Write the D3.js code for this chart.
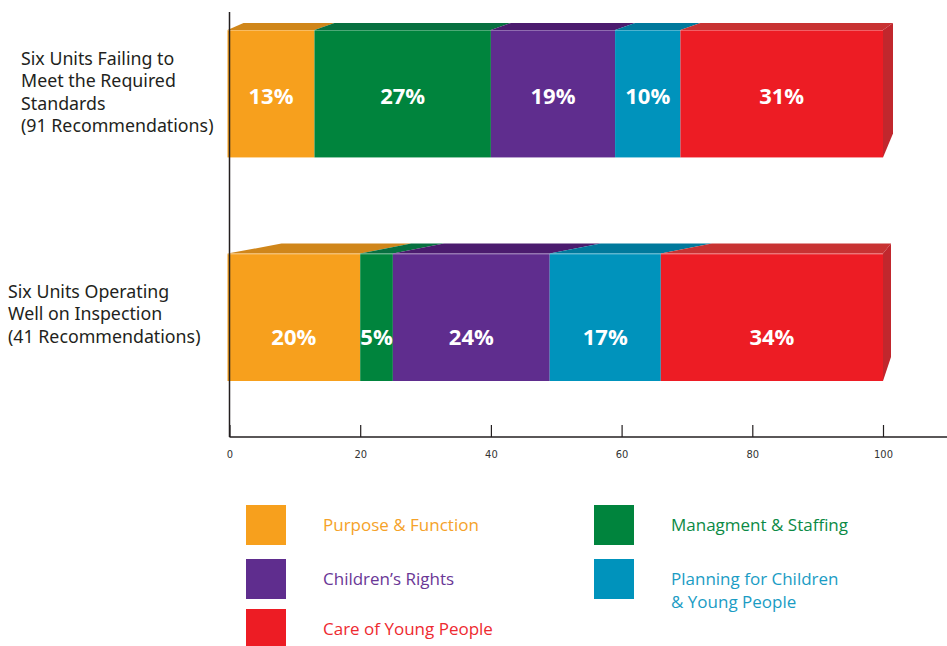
<!DOCTYPE html>
<html>
<head>
<meta charset="utf-8">
<script src="https://cdn.jsdelivr.net/npm/d3@7/dist/d3.min.js"></script>
<style>
  html, body { margin: 0; padding: 0; background: #ffffff; }
  svg { display: block; }
  .cat { font-family: "Noto Sans", "Open Sans", sans-serif; font-size: 17.8px; fill: #231f20; }
  .pct { font-family: "Open Sans", "Noto Sans", sans-serif; font-weight: 700; font-size: 22px; fill: #ffffff; }
  .tick text { font-family: "Liberation Sans Narrow", "DejaVu Sans Condensed", sans-serif; font-size: 11px; fill: #333333; }
  .leg { font-family: "Open Sans", "Noto Sans", sans-serif; font-size: 17px; }
</style>
</head>
<body>
<svg id="chart" width="947" height="646"></svg>
<script>
// Category labels, one line per entry
const categories = [
  ["Six Units Failing to", "Meet the Required", "Standards", "(91 Recommendations)"],
  ["Six Units Operating", "Well on Inspection", "(41 Recommendations)"]
];
const seriesNames = [
  "Purpose & Function",
  "Managment & Staffing",
  "Children\u2019s Rights",
  "Planning for Children & Young People",
  "Care of Young People"
];
// Percentages per series, one value per category
const purposeFunction = [13, 20];
const managementStaffing = [27, 5];
const childrensRights = [19, 24];
const planningChildren = [10, 17];
const careYoungPeople = [31, 34];
const tickValues = [0, 20, 40, 60, 80, 100];

const seriesValues = [purposeFunction, managementStaffing, childrensRights, planningChildren, careYoungPeople];

// Front, top-face and side-face shades for each series
const frontColors = ["#f7a01d", "#00843d", "#5f2d8e", "#0093bc", "#ed1c24"];
const topColors   = ["#d0861a", "#077040", "#4b1b6e", "#00799c", "#c83232"];
const sideColor = "#c1272d";
const textColors  = ["#f5a229", "#0b8a45", "#6a3796", "#1a9cc4", "#ee2a30"];

// Extrusion of each box (pixels): inner edge shift, left/right edge shift, rise, side bottom rise
const boxDepth = [
  { dx: 20, dxL: 16, dxR: 10, dy: 7, rise: 24, labelShift: 1 },
  { dx: 51, dxL: 54, dxR: 8, dy: 10, rise: 24, labelShift: 19 }
];

const svg = d3.select("#chart");
const W = 947;

const x = d3.scaleLinear().domain([0, 100]).range([229.5, 883]);
const catKeys = categories.map((c, i) => i);
const y = d3.scaleBand().domain(catKeys).range([30, 381]).paddingInner(0.43).paddingOuter(0);
const axisY = 437;

// Stack the series for every category
const rows = catKeys.map(ci => {
  let acc = 0;
  return seriesValues.map((vals, si) => {
    const seg = { ci, si, v: vals[ci], x0: acc, x1: acc + vals[ci] };
    acc += vals[ci];
    return seg;
  });
});

const barsG = svg.append("g");
const barLeft = v => (v === 0 ? x(0) - 2 : x(v));

rows.forEach((segs, ci) => {
  const d = boxDepth[ci];
  const y0 = y(ci), h = y.bandwidth();
  const g = barsG.append("g");
  const n = segs.length;

  // top faces
  g.selectAll("polygon.top").data(segs).join("polygon")
    .attr("class", "top")
    .attr("fill", s => topColors[s.si])
    .attr("points", (s, i) => {
      const xa = barLeft(s.x0), xb = x(s.x1);
      const dl = i === 0 ? d.dxL : d.dx;
      const dr = i === n - 1 ? d.dxR : d.dx;
      return [[xa, y0], [xb, y0], [xb + dr, y0 - d.dy], [xa + dl, y0 - d.dy]].join(" ");
    });

  // front faces
  g.selectAll("rect.front").data(segs).join("rect")
    .attr("class", "front")
    .attr("x", s => barLeft(s.x0))
    .attr("y", y0)
    .attr("width", s => x(s.x1) - barLeft(s.x0))
    .attr("height", h)
    .attr("fill", s => frontColors[s.si]);

  // faint highlight along the front top edge
  g.append("line")
    .attr("x1", barLeft(0)).attr("x2", x(100))
    .attr("y1", y0 + 0.5).attr("y2", y0 + 0.5)
    .attr("stroke", "rgba(255,255,255,0.3)").attr("stroke-width", 1);

  // side face on the far end
  const last = segs[n - 1];
  const xe = x(last.x1);
  g.append("polygon")
    .attr("fill", sideColor)
    .attr("points", [[xe, y0], [xe + d.dxR, y0 - d.dy], [xe + d.dxR, y0 + h - d.rise], [xe, y0 + h]].join(" "));

  // value labels
  g.selectAll("text.pct").data(segs).join("text")
    .attr("class", "pct")
    .attr("x", s => (barLeft(s.x0) + x(s.x1)) / 2)
    .attr("y", y0 + h / 2 + d.labelShift)
    .attr("text-anchor", "middle")
    .attr("dominant-baseline", "central")
    .text(s => s.v + "%");
});

// x axis with ticks pointing up
const axis = d3.axisBottom(x).tickValues(tickValues).tickSize(-12).tickPadding(13).tickSizeOuter(0);
const axG = svg.append("g").attr("transform", `translate(0,${axisY})`).call(axis);
axG.select(".domain").remove();
axG.selectAll(".tick line").attr("stroke", "#231f20").attr("stroke-width", 1.2);
svg.append("line")
  .attr("x1", x(0)).attr("x2", W)
  .attr("y1", axisY).attr("y2", axisY)
  .attr("stroke", "#231f20").attr("stroke-width", 1.5);
// y axis line drawn over the bars
svg.append("line")
  .attr("x1", x(0)).attr("x2", x(0))
  .attr("y1", 12).attr("y2", axisY)
  .attr("stroke", "#231f20").attr("stroke-width", 1.5);

// category labels
const catX = [21, 8];
const catFirstLine = [58, 291];
categories.forEach((lines, ci) => {
  const t = svg.append("text").attr("class", "cat")
    .attr("dominant-baseline", "central");
  lines.forEach((ln, li) => {
    t.append("tspan").attr("x", catX[ci]).attr("y", catFirstLine[ci] + li * 22.4).text(ln);
  });
});

// legend
const legendItems = [
  { si: 0, x: 246, y: 505 },
  { si: 2, x: 246, y: 559 },
  { si: 4, x: 246, y: 609 },
  { si: 1, x: 594, y: 505 },
  { si: 3, x: 594, y: 559 }
];
const legendLines = {
  3: ["Planning for Children", "& Young People"]
};
const lg = svg.append("g");
legendItems.forEach(it => {
  lg.append("rect").attr("x", it.x).attr("y", it.y).attr("width", 40).attr("height", 40)
    .attr("fill", frontColors[it.si]);
  const lines = legendLines[it.si] || [seriesNames[it.si]];
  const t = lg.append("text").attr("class", "leg").attr("fill", textColors[it.si])
    .attr("dominant-baseline", "central");
  lines.forEach((ln, li) => {
    t.append("tspan").attr("x", it.x + 77).attr("y", it.y + 19 + li * 23).text(ln);
  });
});
</script>
</body>
</html>
